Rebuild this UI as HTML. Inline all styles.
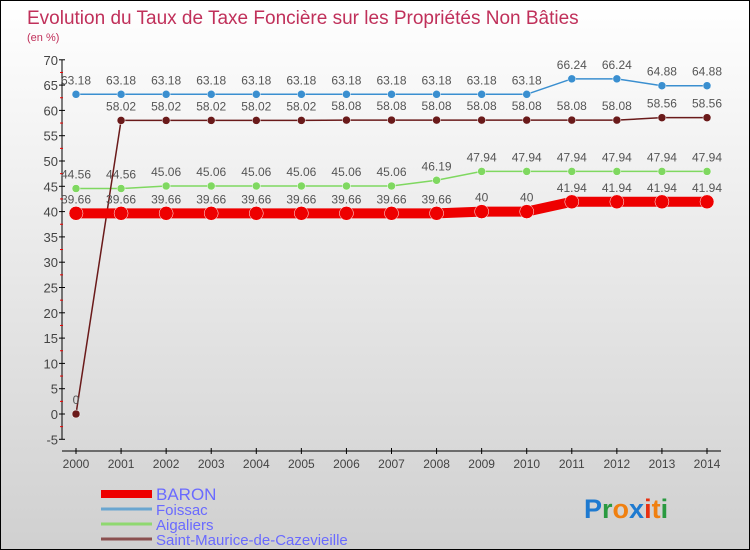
<!DOCTYPE html>
<html><head><meta charset="utf-8"><style>
body{margin:0;}
#wrap{position:relative;width:748px;height:548px;border:1px solid #000;background:linear-gradient(#ffffff,#d0d0d0);overflow:hidden;font-family:"Liberation Sans",sans-serif;}
</style></head><body>
<div id="wrap">
<svg id="chart" width="748" height="548"></svg>
</div>
<script>
const years=[2000,2001,2002,2003,2004,2005,2006,2007,2008,2009,2010,2011,2012,2013,2014];
const baron=[39.66,39.66,39.66,39.66,39.66,39.66,39.66,39.66,39.66,40,40,41.94,41.94,41.94,41.94];
const foissac=[63.18,63.18,63.18,63.18,63.18,63.18,63.18,63.18,63.18,63.18,63.18,66.24,66.24,64.88,64.88];
const aigaliers=[44.56,44.56,45.06,45.06,45.06,45.06,45.06,45.06,46.19,47.94,47.94,47.94,47.94,47.94,47.94];
const saintMaurice=[0,58.02,58.02,58.02,58.02,58.02,58.08,58.08,58.08,58.08,58.08,58.08,58.08,58.56,58.56];
const yTicks=[-5,0,5,10,15,20,25,30,35,40,45,50,55,60,65,70];
const seriesNames=["BARON","Foissac","Aigaliers","Saint-Maurice-de-Cazevieille"];

const NS="http://www.w3.org/2000/svg";
const svg=document.getElementById('chart');
function X(i){return 75+(i)*(706-75)/(years.length-1);}
function Y(v){return 413-v*5.06;}
function el(t,a,p){const e=document.createElementNS(NS,t);for(const k in a)e.setAttribute(k,a[k]);(p||svg).appendChild(e);return e;}
function txt(x,y,s,a){const t=el('text',Object.assign({x:x,y:y},a));t.textContent=s;return t;}

let t=txt(26,23,"Evolution du Taux de Taxe Foncière sur les Propriétés Non Bâties",{fill:"#c0305a","font-size":19});

t=txt(26,40,"(en %)",{fill:"#c0305a","font-size":11});


let ax=el('line',{x1:61,y1:Y(70),x2:61,y2:Y(-5),stroke:"#000"});

ax=el('line',{x1:61,y1:450,x2:720,y2:450,stroke:"#000"});

yTicks.forEach(v=>{
  el('line',{x1:58,y1:Y(v),x2:64,y2:Y(v),stroke:"#000"});
  if(v<70)el('line',{x1:59,y1:Y(v+2.5),x2:62,y2:Y(v+2.5),stroke:"#e00"});
  const l=txt(57,Y(v)+5,String(v),{fill:"#444","font-size":13,"text-anchor":"end"});
  
});
years.forEach((yr,i)=>{
  el('line',{x1:X(i),y1:447,x2:X(i),y2:453,stroke:"#000"});
  const l=txt(X(i),467,String(yr),{fill:"#444","font-size":12,"text-anchor":"middle"});
  
});

function series(data,color,width,r,name,labelOff){
  const g=el('g',{});
  
  
  el('polyline',{points:data.map((v,i)=>X(i)+','+Y(v)).join(' '),fill:'none',stroke:color,'stroke-width':width},g);
  data.forEach((v,i)=>{
    const c=el('circle',{cx:X(i),cy:Y(v),r:r,fill:color,stroke:'#fff','stroke-width':0.5},g);
    
    const l=txt(X(i),Y(v)+labelOff,String(v),{fill:"#555","font-size":12,"text-anchor":"middle"},g);
    
  });
}
series(foissac,"#3a8fd0",1.5,4,"foissac-series",-10);
series(aigaliers,"#7fd860",1.5,4,"aigaliers-series",-10);
series(saintMaurice,"#6a1a1a",1.5,4,"saint-maurice-series",-10);
series(baron,"#ee0000",10,7,"baron-series",-10);

const lc=["#ee0000","#6aa6d0","#8fd870","#8a5050"],lw=[8,3,3,3];
seriesNames.forEach((n,i)=>{
  const y=493+i*15;
  const ln=el('line',{x1:100,y1:y,x2:151,y2:y,stroke:lc[i],'stroke-width':lw[i]});
  
  const l=txt(155,y+6,n,{fill:"#6a6aff","font-size":i==0?17:15});
  
});
const logo=el('text',{x:583,y:517,"font-size":27,"font-family":"Liberation Sans, sans-serif","font-weight":"bold"});

[["P","#1e7ad0"],["r","#2a9a40"],["o","#f08010"],["x","#1e7ad0"],["i","#e83010"],["t","#f08010"],["i","#2a9a40"]].forEach(([c,f])=>{const s=el('tspan',{fill:f},logo);s.textContent=c;});
</script>
</body></html>
